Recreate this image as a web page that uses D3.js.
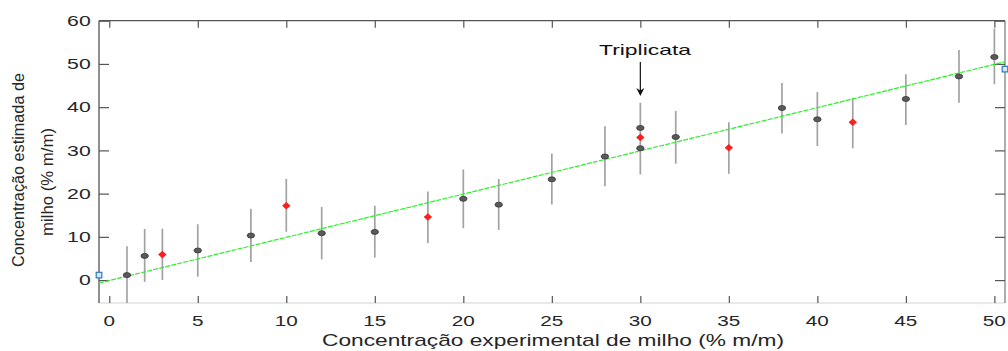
<!DOCTYPE html>
<html>
<head>
<meta charset="utf-8">
<script src="https://cdn.jsdelivr.net/npm/d3@7"></script>
<style>
  html, body { margin: 0; padding: 0; background: #fff; }
  svg { display: block; font-family: "Liberation Sans", Arial, sans-serif; }
</style>
</head>
<body>
<svg id="chart" width="1008" height="351"></svg>
<script>
// ---- data ----
const grayX = [1, 2, 5, 8, 12, 15, 20, 22, 25, 28, 30, 30, 32, 38, 40, 45, 48, 50];
const grayY = [1.15, 5.6, 6.85, 10.3, 10.85, 11.15, 18.8, 17.45, 23.3, 28.6, 35.2, 30.5, 33.1, 39.8, 37.2, 41.9, 47.1, 51.6];
const redX = [3, 10, 18, 30, 35, 42];
const redY = [5.9, 17.2, 14.6, 33.0, 30.6, 36.5];
const blueX = [-0.58, 50.6];
const blueY = [1.15, 48.8];
const errX = [1, 2, 3, 5, 8, 10, 12, 15, 18, 20, 22, 25, 28, 30, 32, 35, 38, 40, 42, 45, 48, 50];
const errLo = [-6, -0.4, 0, 0.8, 4.2, 11.2, 4.8, 5.2, 8.6, 12, 11.6, 17.5, 21.7, 24.4, 26.9, 24.6, 33.9, 31, 30.5, 35.9, 41, 45.3];
const errHi = [7.8, 11.8, 11.9, 12.9, 16.5, 23.4, 16.9, 17.2, 20.5, 25.6, 23.4, 29.3, 35.6, 41, 39.1, 36.5, 45.6, 43.5, 42.2, 47.6, 53.2, 58.2];
const fitSlope = 1.0, fitIntercept = -0.1;
const xTicks = [0, 5, 10, 15, 20, 25, 30, 35, 40, 45, 50];
const yTicks = [0, 10, 20, 30, 40, 50, 60];
const xLabel = "Concentração experimental de milho (% m/m)";
const yLabel1 = "Concentração estimada de";
const yLabel2 = "milho (% m/m)";
const annotation = "Triplicata";
const annotX = 30;

// ---- layout ----
const L = 99, R = 1005, T = 20.7, B = 303;
const xDom = [-0.58, 50.6], yDom = [-5.3, 60];
const x = d3.scaleLinear().domain(xDom).range([L, R]);
const y = d3.scaleLinear().domain(yDom).range([B, T]);

const svg = d3.select("#chart");
svg.append("defs").append("clipPath").attr("id", "clip")
  .append("rect").attr("x", L).attr("y", T).attr("width", R - L).attr("height", B - T);

// axes box lines
svg.append("line").attr("x1", L).attr("x2", R).attr("y1", B).attr("y2", B).attr("stroke", "#d4d4d4").attr("stroke-width", 1.2);
svg.append("line").attr("x1", L).attr("x2", R).attr("y1", T).attr("y2", T).attr("stroke", "#555").attr("stroke-width", 1.2);
svg.append("line").attr("x1", L).attr("x2", L).attr("y1", T).attr("y2", B).attr("stroke", "#444").attr("stroke-width", 1.2);
svg.append("line").attr("x1", R).attr("x2", R).attr("y1", T).attr("y2", B).attr("stroke", "#777").attr("stroke-width", 1.2);

// ticks via d3 axes (inward)
const axB = svg.append("g").attr("transform", `translate(0,${B})`)
  .call(d3.axisTop(x).tickValues(xTicks).tickSize(7).tickFormat(""));
const axT = svg.append("g").attr("transform", `translate(0,${T})`)
  .call(d3.axisBottom(x).tickValues(xTicks).tickSize(7).tickFormat(""));
const axL = svg.append("g").attr("transform", `translate(${L},0)`)
  .call(d3.axisRight(y).tickValues(yTicks).tickSize(10).tickFormat(""));
const axR = svg.append("g").attr("transform", `translate(${R},0)`)
  .call(d3.axisLeft(y).tickValues(yTicks).tickSize(10).tickFormat(""));
[axB, axT, axL, axR].forEach(g => {
  g.select(".domain").remove();
  g.selectAll(".tick line").attr("stroke", "#555").attr("stroke-width", 1.2);
});

// tick labels
svg.append("g").selectAll("text").data(xTicks).join("text")
  .attr("x", d => x(d)).attr("y", 325.5)
  .attr("text-anchor", "middle")
  .attr("font-size", 15).attr("fill", "#262626")
  .attr("textLength", d => String(d).length * 11.5)
  .attr("lengthAdjust", "spacingAndGlyphs")
  .text(d => d);
svg.append("g").selectAll("text").data(yTicks).join("text")
  .attr("x", 90.7).attr("y", d => y(d) + 5.3)
  .attr("text-anchor", "end")
  .attr("font-size", 15).attr("fill", "#262626")
  .attr("textLength", d => String(d).length * 11.8)
  .attr("lengthAdjust", "spacingAndGlyphs")
  .text(d => d);

// axis labels
svg.append("text").attr("x", 322).attr("y", 345.5)
  .attr("font-size", 17).attr("fill", "#262626")
  .attr("textLength", 462).attr("lengthAdjust", "spacingAndGlyphs")
  .text(xLabel);
svg.append("text").attr("transform", "translate(24,170) rotate(-90)")
  .attr("text-anchor", "middle")
  .attr("font-size", 17).attr("fill", "#262626")
  .attr("textLength", 194).attr("lengthAdjust", "spacingAndGlyphs")
  .text(yLabel1);
svg.append("text").attr("transform", "translate(53,182) rotate(-90)")
  .attr("text-anchor", "middle")
  .attr("font-size", 17).attr("fill", "#262626")
  .attr("textLength", 108).attr("lengthAdjust", "spacingAndGlyphs")
  .text(yLabel2);

const plot = svg.append("g").attr("clip-path", "url(#clip)");

// error bars
plot.append("g").selectAll("line").data(errX).join("line")
  .attr("x1", d => x(d)).attr("x2", d => x(d))
  .attr("y1", (d, i) => y(errLo[i])).attr("y2", (d, i) => y(errHi[i]))
  .attr("stroke", "#a2a2a2").attr("stroke-width", 1.7);

// fit line
plot.append("line")
  .attr("x1", x(xDom[0])).attr("y1", y(fitIntercept + fitSlope * xDom[0]))
  .attr("x2", x(xDom[1])).attr("y2", y(fitIntercept + fitSlope * xDom[1]))
  .attr("stroke", "#2cf02c").attr("stroke-width", 1.2)
  .attr("stroke-dasharray", "5,1.2");

// gray points (ellipses)
svg.append("g").selectAll("ellipse").data(grayX).join("ellipse")
  .attr("cx", d => x(d)).attr("cy", (d, i) => y(grayY[i]))
  .attr("rx", 3.7).attr("ry", 2.5)
  .attr("fill", "#5a5a5a").attr("stroke", "#333").attr("stroke-width", 0.8);

// red diamonds
svg.append("g").selectAll("path").data(redX).join("path")
  .attr("d", (d, i) => {
    const cx = x(d), cy = y(redY[i]);
    return `M${cx - 3.8},${cy} L${cx},${cy - 3.3} L${cx + 3.8},${cy} L${cx},${cy + 3.3} Z`;
  })
  .attr("fill", "#ff1e1e").attr("stroke", "#e00").attr("stroke-width", 0.6);

// blue squares
svg.append("g").selectAll("rect").data(blueX).join("rect")
  .attr("x", d => x(d) - 2.8).attr("y", (d, i) => y(blueY[i]) - 2.8)
  .attr("width", 5.6).attr("height", 5.6)
  .attr("fill", "#d6e8f7").attr("stroke", "#2f78bd").attr("stroke-width", 1.2);

// annotation
const ax = x(annotX);
svg.append("text").attr("x", 645).attr("y", 55)
  .attr("text-anchor", "middle")
  .attr("font-size", 14.5).attr("fill", "#111")
  .attr("textLength", 92).attr("lengthAdjust", "spacingAndGlyphs")
  .text(annotation);
svg.append("line").attr("x1", ax).attr("x2", ax).attr("y1", 62).attr("y2", 93)
  .attr("stroke", "#111").attr("stroke-width", 1.2);
svg.append("path")
  .attr("d", `M${ax},${96} L${ax - 4},${88} L${ax},${90.5} L${ax + 4},${88} Z`)
  .attr("fill", "#111");
</script>
</body>
</html>
